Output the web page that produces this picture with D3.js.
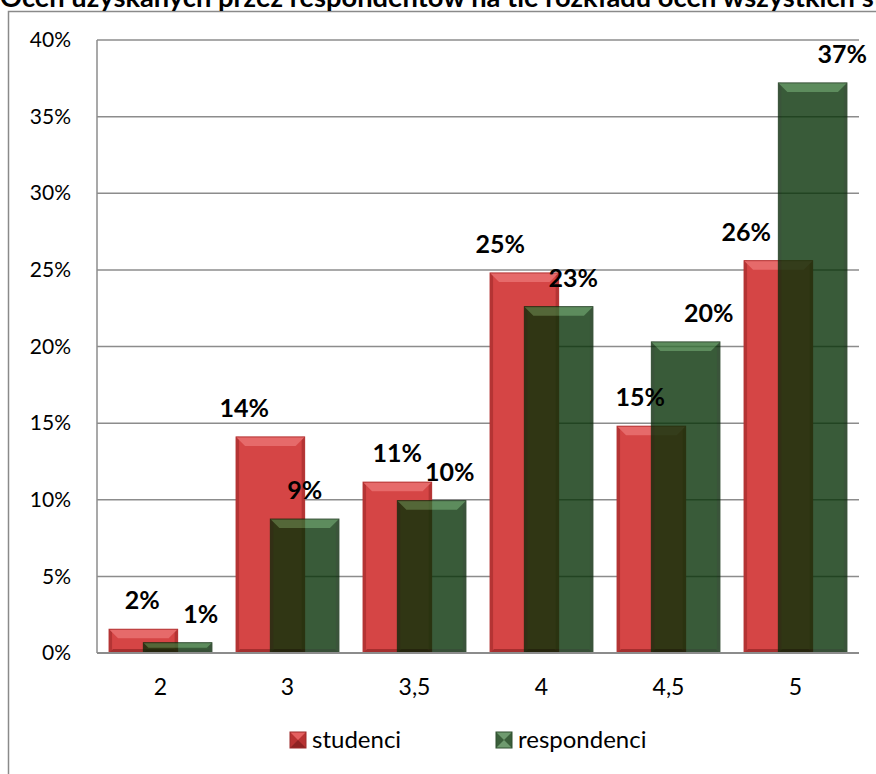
<!DOCTYPE html>
<html><head><meta charset="utf-8">
<script src="https://cdn.jsdelivr.net/npm/d3@7"></script>
<style>html,body{margin:0;padding:0;background:#fff;overflow:hidden}svg{display:block}</style>
</head><body>
<script>
// ---- data ----
const categories = ["2", "3", "3,5", "4", "4,5", "5"];
const seriesNames = ["studenci", "respondenci"];
const studenci = [0.0155, 0.141, 0.1115, 0.248, 0.148, 0.256];
const respondenci = [0.0067, 0.0874, 0.0994, 0.226, 0.203, 0.372];
const yTicks = [0, 0.05, 0.10, 0.15, 0.20, 0.25, 0.30, 0.35, 0.40];
const titleText = "Ocen uzyskanych przez respondentów na tle rozkładu ocen wszystkich studentów";

// ---- layout ----
const W = 876, H = 774;
const plot = {left: 97, right: 859, top: 40, bottom: 653};
const labelDx = [[-1, -26, 0, -24, -11, -32], [23, 0, 18, 14.5, 23, 29.5]];

const svg = d3.select("body").append("svg").attr("width", W).attr("height", H);

// outer border
svg.append("rect").attr("x", 8.5).attr("y", 11.5).attr("width", 1000).attr("height", 1000)
  .attr("fill", "#fff").attr("stroke", "#8a8a8a").attr("stroke-width", 1.5);

// title (clipped at top, as in the reference)
const title = svg.append("text").attr("x", 0).attr("y", 7)
  .attr("font-family", "Lato").attr("font-weight", "bold").attr("font-size", 20)
  .attr("fill", "#000").text(titleText);
{
  const prefixLen = titleText.indexOf("studentów") + 1;
  const len = title.node().getSubStringLength(0, prefixLen);
  title.attr("font-size", 20 * 874 / len);
}

const x0 = d3.scaleBand().domain(categories).range([plot.left, plot.right])
  .paddingInner(0.19).paddingOuter(0.095);
const y = d3.scaleLinear().domain([0, 0.4]).range([plot.bottom, plot.top]);

// gridlines
svg.append("g").selectAll("line").data(yTicks).join("line")
  .attr("x1", plot.left).attr("x2", plot.right)
  .attr("y1", d => y(d)).attr("y2", d => y(d))
  .attr("stroke", "#8c8c8c").attr("stroke-width", 1.5);

// y axis labels
const yAxis = d3.axisLeft(y).tickValues(yTicks).tickFormat(d3.format(".0%")).tickSize(0).tickPadding(26);
const yg = svg.append("g").attr("transform", `translate(${plot.left},0)`).call(yAxis);
yg.select(".domain").remove();
yg.selectAll("text").attr("font-family", "Lato").attr("font-size", 21).attr("fill", "#000");

// bars
const w = x0.bandwidth() / 1.5;
const palettes = [
  {main: "#d54545", top: "#e66a6a", side: "#b43434", bottom: "#a52e2e", opacity: 1},
  {main: "#083308", top: "#357035", side: "#0a2a0a", bottom: "#062406", opacity: 0.8}
];
const series = [studenci, respondenci];

function bevelBar(g, x, yt, wd, ht, p) {
  const b = Math.min(9, ht / 2), s = Math.min(3, wd / 2), bb = Math.min(4, ht / 3);
  const gg = g.append("g").attr("opacity", p.opacity);
  gg.append("rect").attr("x", x).attr("y", yt).attr("width", wd).attr("height", ht).attr("fill", p.main);
  gg.append("rect").attr("x", x).attr("y", yt).attr("width", s).attr("height", ht).attr("fill", p.side);
  gg.append("rect").attr("x", x + wd - s).attr("y", yt).attr("width", s).attr("height", ht).attr("fill", p.side);
  gg.append("polygon").attr("points", [[x, yt + ht], [x + wd, yt + ht], [x + wd - bb, yt + ht - bb], [x + bb, yt + ht - bb]].map(d => d.join(",")).join(" "))
    .attr("fill", p.bottom);
  gg.append("polygon").attr("points", [[x, yt], [x + wd, yt], [x + wd - b, yt + b], [x + b, yt + b]].map(d => d.join(",")).join(" "))
    .attr("fill", p.top);
  gg.append("rect").attr("x", x).attr("y", yt).attr("width", wd).attr("height", ht)
    .attr("fill", "none").attr("stroke", p.side).attr("stroke-width", 1);
}

const barsG = svg.append("g");
series.forEach((vals, si) => {
  vals.forEach((v, i) => {
    const bx = x0(categories[i]) + si * w / 2;
    bevelBar(barsG, bx, y(v), w, y(0) - y(v), palettes[si]);
  });
});

// axes lines
svg.append("line").attr("x1", plot.left).attr("x2", plot.right).attr("y1", y(0)).attr("y2", y(0))
  .attr("stroke", "#8c8c8c").attr("stroke-width", 2);
svg.append("line").attr("x1", plot.left).attr("x2", plot.left).attr("y1", y(0.4)).attr("y2", y(0))
  .attr("stroke", "#8c8c8c").attr("stroke-width", 1.5);

// data labels
series.forEach((vals, si) => {
  svg.append("g").selectAll("text").data(vals).join("text")
    .attr("x", (d, i) => x0(categories[i]) + si * w / 2 + w / 2 + labelDx[si][i])
    .attr("y", d => y(d) - 20)
    .attr("text-anchor", "middle")
    .attr("font-family", "Lato").attr("font-weight", "bold").attr("font-size", 25)
    .attr("fill", "#000")
    .text(d => Math.round(d * 100) + "%");
});

// x axis labels
const xAxis = d3.axisBottom(x0).tickSize(0).tickPadding(26);
const xg = svg.append("g").attr("transform", `translate(0,${plot.bottom})`).call(xAxis);
xg.select(".domain").remove();
xg.selectAll("text").attr("font-family", "Lato").attr("font-size", 23).attr("fill", "#000");

// legend
const legendX = [290, 496];
const legendPal = [
  {main: "#b83232", top: "#e46060", side: "#9c2a2a", bottom: "#8e2222"},
  {main: "#3a5e3a", top: "#6e9a6e", side: "#2e4e2e", bottom: "#6e9a6e"}
];
const lg = svg.append("g");
seriesNames.forEach((name, i) => {
  const lx = legendX[i], ly = 732, s = 16;
  const p = legendPal[i];
  const g = lg.append("g");
  g.append("rect").attr("x", lx).attr("y", ly).attr("width", s).attr("height", s).attr("fill", p.main);
  g.append("polygon").attr("points", `${lx},${ly} ${lx + s},${ly} ${lx + s / 2},${ly + s / 2}`).attr("fill", p.top);
  g.append("polygon").attr("points", `${lx},${ly + s} ${lx + s},${ly + s} ${lx + s / 2},${ly + s / 2}`).attr("fill", p.bottom);
  g.append("rect").attr("x", lx).attr("y", ly).attr("width", s).attr("height", s).attr("fill", "none").attr("stroke", p.side).attr("stroke-width", 1);
  g.append("text").attr("x", lx + s + 6).attr("y", ly + 15.5)
    .attr("font-family", "Lato").attr("font-size", 24).attr("fill", "#000").text(name);
});
</script>
</body></html>
